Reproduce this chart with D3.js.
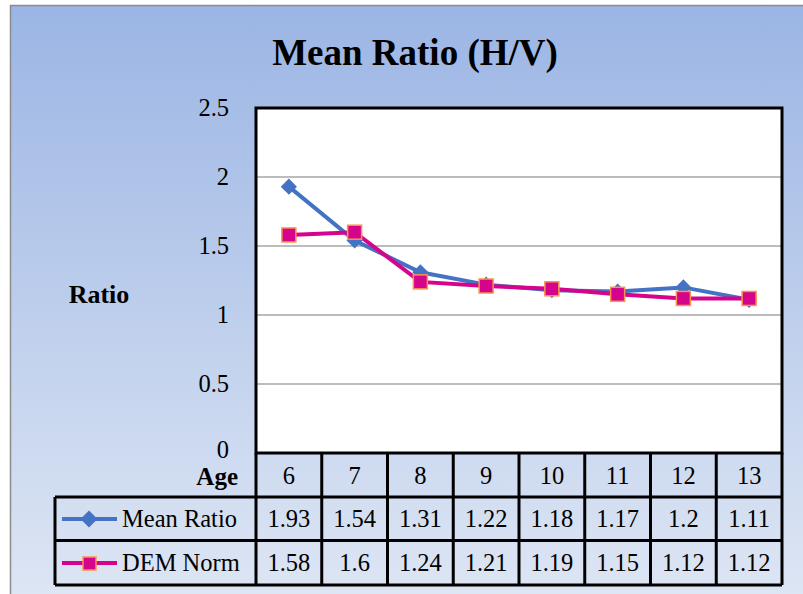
<!DOCTYPE html>
<html><head><meta charset="utf-8">
<script src="https://cdn.jsdelivr.net/npm/d3@7"></script>
<style>body{margin:0;background:#fff}svg{display:block}</style>
</head><body>
<script>
const ages = ["6","7","8","9","10","11","12","13"];
const meanRatio = [1.93,1.54,1.31,1.22,1.18,1.17,1.2,1.11];
const demNorm = [1.58,1.6,1.24,1.21,1.19,1.15,1.12,1.12];
const yTicks = [0,0.5,1,1.5,2,2.5];
const seriesNames = ["Mean Ratio","DEM Norm"];
const title = "Mean Ratio (H/V)";

const W=803,H=594;
const svg=d3.select("body").append("svg").attr("width",W).attr("height",H);
const defs=svg.append("defs");
const g=defs.append("linearGradient").attr("id","bg").attr("x1",0).attr("y1",0).attr("x2",0).attr("y2",1);
g.append("stop").attr("offset","0%").attr("stop-color","#9bb5e4");
g.append("stop").attr("offset","100%").attr("stop-color","#dee6f4");
svg.append("rect").attr("x",10.5).attr("y",5.5).attr("width",W).attr("height",H).attr("fill","url(#bg)").attr("stroke","#8c8c8c").attr("stroke-width",1.5);

const font="'Liberation Serif', 'DejaVu Serif', serif";
const fs=24.5;
svg.append("text").attr("x",415).attr("y",65).attr("text-anchor","middle")
  .attr("font-family",font).attr("font-weight","bold").attr("font-size",37).attr("fill","#000").text(title);

const L=256,R=782,T=108,B=453;
const x=d3.scaleBand().domain(ages).range([L,R]);
const y=d3.scaleLinear().domain([0,2.5]).range([B,T]);

svg.append("rect").attr("x",L).attr("y",T).attr("width",R-L).attr("height",B-T).attr("fill","#fff");
svg.append("g").selectAll("line").data(yTicks.filter(d=>d>0&&d<2.5)).join("line")
  .attr("x1",L).attr("x2",R).attr("y1",d=>y(d)).attr("y2",d=>y(d)).attr("stroke","#a6a6a6").attr("stroke-width",1.5);
svg.append("rect").attr("x",L).attr("y",T).attr("width",R-L).attr("height",B-T).attr("fill","none").attr("stroke","#000").attr("stroke-width",3);

const yAxis=d3.axisLeft(y).tickValues(yTicks).tickSize(0).tickPadding(27).tickFormat(d3.format("~g"));
const ya=svg.append("g").attr("transform",`translate(${L},0)`).call(yAxis);
ya.select(".domain").remove();
ya.selectAll("text").attr("font-family",font).attr("font-size",fs).attr("fill","#000")
  .attr("dy",d=>d===0?"0.18em":"0.3em");

svg.append("text").attr("x",99).attr("y",303).attr("text-anchor","middle").attr("font-family",font)
  .attr("font-weight","bold").attr("font-size",26).text("Ratio");

const line=d3.line().x((d,i)=>x(ages[i])+x.bandwidth()/2).y(d=>y(d));
svg.append("path").datum(meanRatio).attr("d",line).attr("fill","none").attr("stroke","#4472c4").attr("stroke-width",4);
svg.append("path").datum(demNorm).attr("d",line).attr("fill","none").attr("stroke","#d6038d").attr("stroke-width",4);
svg.append("g").selectAll("path").data(meanRatio).join("path")
  .attr("d",d3.symbol().type(d3.symbolSquare).size(130)).attr("fill","#4472c4")
  .attr("transform",(d,i)=>`translate(${x(ages[i])+x.bandwidth()/2},${y(d)}) rotate(45)`);
svg.append("g").selectAll("rect").data(demNorm).join("rect")
  .attr("x",(d,i)=>x(ages[i])+x.bandwidth()/2-7).attr("y",d=>y(d)-7).attr("width",14).attr("height",14)
  .attr("fill","#d6038d").attr("stroke","#f7964a").attr("stroke-width",1.5);

const rows=[497,540.5,585];
const tb=svg.append("g").attr("stroke","#000").attr("stroke-width",3);
ages.forEach((a,i)=>{ if(i>0) tb.append("line").attr("x1",x(a)).attr("x2",x(a)).attr("y1",B).attr("y2",rows[2]); });
tb.append("line").attr("x1",R).attr("x2",R).attr("y1",B).attr("y2",rows[2]);
tb.append("line").attr("x1",L).attr("x2",L).attr("y1",B).attr("y2",rows[2]);
tb.append("line").attr("x1",55).attr("x2",55).attr("y1",rows[0]).attr("y2",rows[2]);
rows.forEach(r=>tb.append("line").attr("x1",55).attr("x2",R).attr("y1",r).attr("y2",r));

const txt=svg.append("g").attr("font-family",font).attr("font-size",fs).attr("text-anchor","middle").attr("fill","#000");
ages.forEach((a,i)=>{
  const cx=x(a)+x.bandwidth()/2;
  txt.append("text").attr("x",cx).attr("y",484).text(a);
  txt.append("text").attr("x",cx).attr("y",527).text(meanRatio[i]);
  txt.append("text").attr("x",cx).attr("y",571).text(demNorm[i]);
});
svg.append("text").attr("x",238).attr("y",485).attr("text-anchor","end").attr("font-family",font)
  .attr("font-weight","bold").attr("font-size",25).text("Age");

const key=svg.append("g");
key.append("line").attr("x1",62).attr("x2",117).attr("y1",519).attr("y2",519).attr("stroke","#4472c4").attr("stroke-width",4);
key.append("rect").attr("x",89-6).attr("y",519-6).attr("width",12).attr("height",12).attr("fill","#4472c4").attr("transform","rotate(45,89,519)");
key.append("line").attr("x1",62).attr("x2",117).attr("y1",563).attr("y2",563).attr("stroke","#d6038d").attr("stroke-width",4);
key.append("rect").attr("x",83).attr("y",557).attr("width",13).attr("height",13).attr("fill","#d6038d").attr("stroke","#f7964a").attr("stroke-width",1.5);
svg.append("text").attr("x",122).attr("y",527).attr("font-family",font).attr("font-size",fs).text(seriesNames[0]);
svg.append("text").attr("x",122).attr("y",571).attr("font-family",font).attr("font-size",fs).text(seriesNames[1]);
</script>
</body></html>
